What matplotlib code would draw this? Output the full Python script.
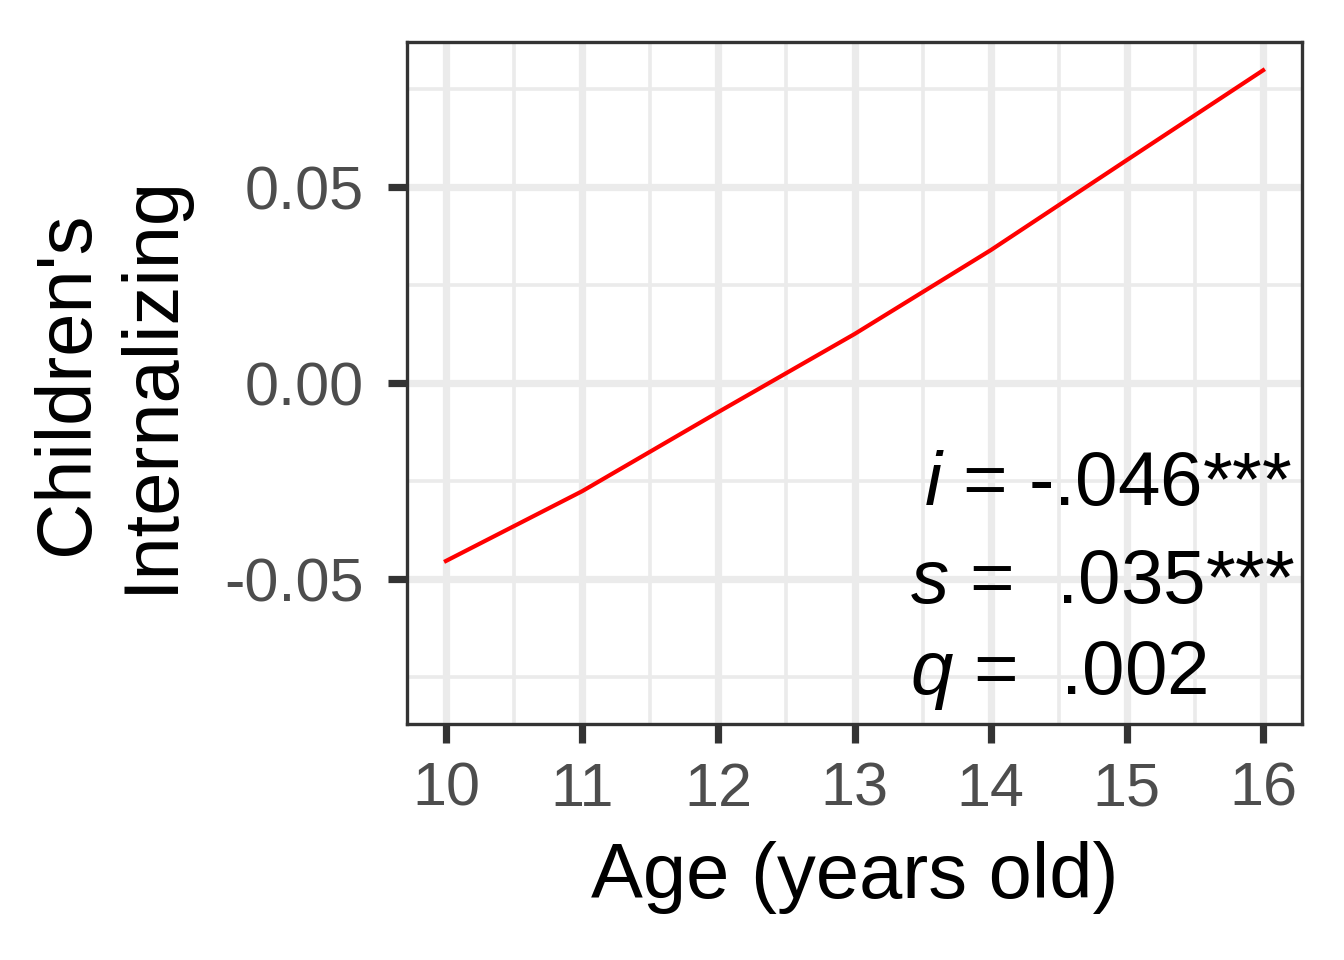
import numpy as np
import matplotlib
matplotlib.use("Agg")
import matplotlib.pyplot as plt

plt.rcParams['font.family'] = ['Liberation Sans', 'DejaVu Sans']
plt.rcParams['mathtext.fontset'] = 'custom'
plt.rcParams['mathtext.rm'] = 'Liberation Sans'
plt.rcParams['mathtext.it'] = 'Liberation Sans:italic'

# values
age = [10, 11, 12, 13, 14, 15, 16]
internalizing = [-0.0454, -0.0276, -0.0074, 0.0125, 0.0339, 0.0569, 0.0798]

x_ticks = [10, 11, 12, 13, 14, 15, 16]
y_ticks = [-0.05, 0.00, 0.05]
y_tick_labels = ['-0.05', '0.00', '0.05']

annot = [r'$i$ = -.046***', r'$s$ =  .035***', r'$q$ =  .002']

fig = plt.figure(figsize=(6.72, 4.8), dpi=200)
ax = fig.add_axes([0.3028, 0.2458, 0.6660, 0.7104])

ax.plot(age, internalizing, color='#FF0000', lw=1.5, zorder=3)

ax.set_xlim(9.714, 16.286)
ax.set_ylim(-0.087, 0.087)
ax.set_xticks(x_ticks)
ax.set_yticks(y_ticks)
ax.set_yticklabels(y_tick_labels)
ax.set_xticks(np.arange(10.5, 16, 1), minor=True)
ax.set_yticks([-0.075, -0.025, 0.025, 0.075], minor=True)

ax.grid(which='major', color='#EBEBEB', lw=2.6)
ax.grid(which='minor', color='#EBEBEB', lw=1.3)
ax.set_axisbelow(True)

for s in ax.spines.values():
    s.set_color('#333333')
    s.set_linewidth(1.2)

ax.tick_params(which='major', length=7, width=2.6, color='#333333',
               labelsize=22, labelcolor='#4D4D4D', pad=6.5)
ax.tick_params(axis='y', which='major', pad=8.5)
ax.tick_params(which='minor', length=0)

ax.set_xlabel('Age (years old)', fontsize=28, labelpad=8)
ax.set_ylabel("Children's\nInternalizing", fontsize=28, labelpad=13, linespacing=1.2)

ax.text(16.21, -0.0262, annot[0], fontsize=27.5, ha='right', va='center')
ax.text(13.41, -0.0512, annot[1], fontsize=27.5, ha='left', va='center')
ax.text(13.41, -0.0747, annot[2], fontsize=27.5, ha='left', va='center')

fig.savefig('out.png', dpi=200)
